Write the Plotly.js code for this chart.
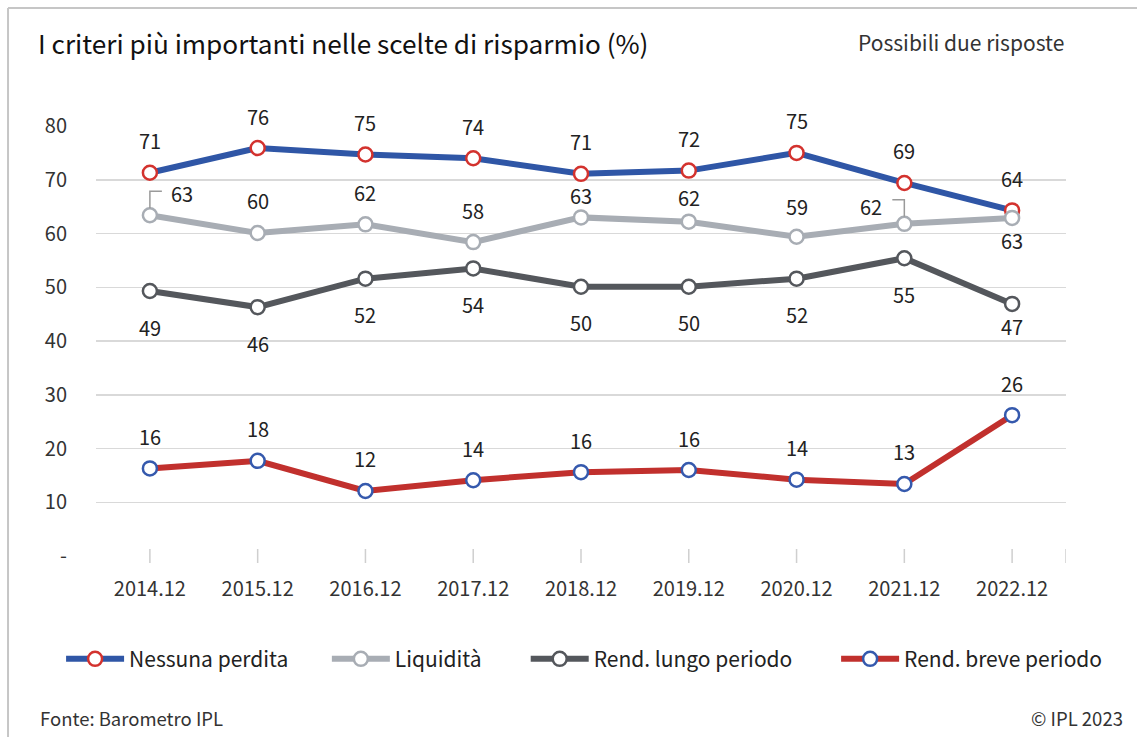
<!DOCTYPE html>
<html>
<head>
<meta charset="utf-8">
<script src="https://cdn.plot.ly/plotly-3.0.1.min.js"></script>
<style>
html,body{margin:0;padding:0;background:#fff;}
#chart{width:1137px;height:737px;}
</style>
</head>
<body>
<div id="chart"></div>
<script>
// ---- data ----
var categories = ['2014.12','2015.12','2016.12','2017.12','2018.12','2019.12','2020.12','2021.12','2022.12'];
var seriesNames = ['Nessuna perdita','Liquidità','Rend. lungo periodo','Rend. breve periodo'];
var nessunaPerdita = [71.3, 75.9, 74.7, 74.0, 71.1, 71.7, 75.0, 69.4, 64.3];
var liquidita      = [63.4, 60.1, 61.7, 58.4, 63.0, 62.2, 59.4, 61.8, 62.9];
var rendLungo      = [49.3, 46.3, 51.6, 53.5, 50.1, 50.1, 51.6, 55.4, 46.9];
var rendBreve      = [16.3, 17.7, 12.1, 14.1, 15.6, 16.0, 14.2, 13.4, 26.2];
var yTickVals  = [0, 10, 20, 30, 40, 50, 60, 70, 80];
var yTickText  = ['-', '10', '20', '30', '40', '50', '60', '70', '80'];

// ---- styling ----
var FONT = '"Noto Sans CJK KR", "Noto Sans", sans-serif';
var styles = [
  {line:'#2f56a6', mk:'#d3322e', dy:32},
  {line:'#a8adb4', mk:'#a8adb4', dy:32},
  {line:'#54575c', mk:'#54575c', dy:-36},
  {line:'#c1302d', mk:'#3559ad', dy:32}
];
// per-label position overrides: [seriesIndex, pointIndex, dx, dy]
var labelOverrides = [
  [1,0,32,22],[1,4,0,22],[1,5,0,24],[1,6,0,30],[1,7,-33,17],[1,8,0,-23],
  [2,8,0,-23]
];
// callout leaders: [seriesIndex, pointIndex, direction]
var leaders = [[1,0,1],[1,7,-1]];
// legend x positions (paper fraction), one legend box per series
var legendX = [-0.036, 0.238, 0.443, 0.763];

var allSeries = [nessunaPerdita, liquidita, rendLungo, rendBreve];
var legendIds = ['legend','legend2','legend3','legend4'];

var traces = allSeries.map(function(vals, s){
  return {
    type:'scatter', mode:'lines+markers', name:seriesNames[s], legend:legendIds[s],
    x:categories, y:vals, cliponaxis:false,
    line:{color:styles[s].line, width:6},
    marker:{size:14, color:'#ffffff', line:{color:styles[s].mk, width:2.5}}
  };
});

var annotations = [];
allSeries.forEach(function(vals, s){
  vals.forEach(function(v, i){
    var dx = 0, dy = styles[s].dy;
    labelOverrides.forEach(function(o){ if(o[0]===s && o[1]===i){ dx=o[2]; dy=o[3]; } });
    annotations.push({
      x:i, y:v, xref:'x', yref:'y', text:String(Math.round(v)),
      showarrow:false, xshift:dx, yshift:dy,
      font:{family:FONT, size:20, color:'#222'}
    });
  });
});

annotations.push({xref:'paper', yref:'paper', x:1, y:1.195, xanchor:'right', yanchor:'middle',
  text:'Possibili due risposte', showarrow:false, font:{family:FONT, size:21, color:'#333'}});
annotations.push({xref:'paper', yref:'paper', x:-0.0598, y:-0.377, xanchor:'left', yanchor:'middle',
  text:'Fonte: Barometro IPL', showarrow:false, font:{family:FONT, size:18.5, color:'#333'}});
annotations.push({xref:'paper', yref:'paper', x:1.0608, y:-0.377, xanchor:'right', yanchor:'middle',
  text:'© IPL 2023', showarrow:false, font:{family:FONT, size:18.5, color:'#333'}});

var shapes = [];
// crossing tick marks on the category axis
categories.forEach(function(c, i){
  shapes.push({type:'line', xref:'x', yref:'paper', x0:i, x1:i, ysizemode:'pixel', yanchor:0, y0:-7, y1:7,
    line:{color:'#cfcfcf', width:1.5}, layer:'below'});
});
shapes.push({type:'line', xref:'x', yref:'paper', x0:categories.length-0.5, x1:categories.length-0.5,
  ysizemode:'pixel', yanchor:0, y0:-7, y1:7, line:{color:'#cfcfcf', width:1.5}, layer:'below'});
// callout leaders
leaders.forEach(function(L){
  var s=L[0], i=L[1], d=L[2];
  shapes.push({type:'path', xref:'x', yref:'y', xsizemode:'pixel', ysizemode:'pixel',
    xanchor:i, yanchor:allSeries[s][i],
    path:'M0,7 L0,24 L'+(12*d)+',24', line:{color:'#9a9a9a', width:1.5}});
});
// frame (top and left edges)
shapes.push({type:'line', xref:'paper', yref:'paper', x0:-0.0907, x1:1.08, y0:1.2744, y1:1.2744, line:{color:'#c6c6c6', width:2}});
shapes.push({type:'line', xref:'paper', yref:'paper', x0:-0.0907, x1:-0.0907, y0:-0.43, y1:1.2744, line:{color:'#c6c6c6', width:2}});

var layout = {
  width:1137, height:737,
  margin:{l:96, r:71, t:126, b:181},
  paper_bgcolor:'#ffffff', plot_bgcolor:'#ffffff',
  hovermode:false,
  title:{text:'I criteri più importanti nelle scelte di risparmio (%)', xref:'container', yref:'container',
    x:38/1137, xanchor:'left', y:1-45/737, yanchor:'middle', font:{family:FONT, size:26.2, color:'#111'}},
  xaxis:{type:'category', range:[-0.5, categories.length-0.5], showgrid:false, zeroline:false, showline:false,
    ticks:'', ticklabelstandoff:19, tickfont:{family:FONT, size:20, color:'#333'}},
  yaxis:{range:[0,80], tickvals:yTickVals, ticktext:yTickText, showgrid:true, gridcolor:'#d9d9d9', gridwidth:1.5,
    zeroline:false, showline:false, ticks:'', ticklabelstandoff:28, tickfont:{family:FONT, size:20, color:'#333'}},
  showlegend:true,
  annotations:annotations,
  shapes:shapes
};
legendIds.forEach(function(id, s){
  layout[id] = {orientation:'h', x:legendX[s], xanchor:'left', y:-0.24, yanchor:'middle', itemwidth:58,
    font:{family:FONT, size:21, color:'#222'}, bgcolor:'rgba(0,0,0,0)'};
});

Plotly.newPlot('chart', traces, layout, {displayModeBar:false, staticPlot:true});
</script>
</body>
</html>
